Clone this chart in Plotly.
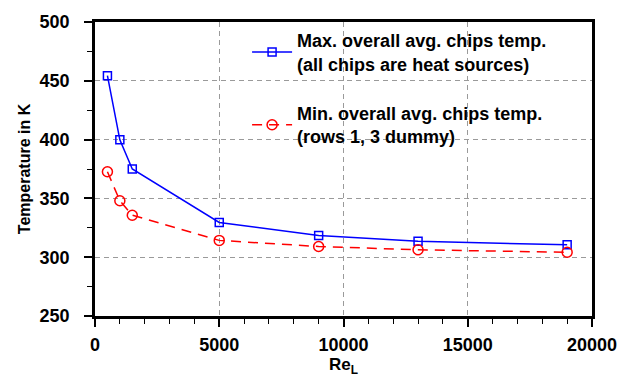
import plotly.graph_objects as go

re_max = [500, 1000, 1500, 5000, 9000, 13000, 19000]
t_max = [454.4, 399.8, 375, 329.5, 318.4, 313.5, 310.5]
re_min = [500, 1000, 1500, 5000, 9000, 13000, 19000]
t_min = [372.7, 348, 335.7, 314.3, 309.1, 306.3, 304.2]

name_max = "Max. overall avg. chips temp.<br>(all chips are heat sources)"
name_min = "Min. overall avg. chips temp.<br>(rows 1, 3 dummy)"

x_ticks = [0, 5000, 10000, 15000, 20000]
y_ticks = [250, 300, 350, 400, 450, 500]

FAM = "Liberation Sans, Arial, sans-serif"

fig = go.Figure()
fig.add_trace(go.Scatter(
    x=re_max, y=t_max, name=name_max, mode="lines+markers", legendgroup="a",
    line=dict(color="#0000ff", width=1.5),
    marker=dict(symbol="square-open", size=8, color="#0000ff", line=dict(width=1.5)),
))
fig.add_trace(go.Scatter(
    x=re_min, y=t_min, name=name_min, mode="lines+markers", legendgroup="b",
    line=dict(color="#ff0000", width=1.5, dash="10px,7px"),
    marker=dict(symbol="circle-open", size=10, color="#ff0000", line=dict(width=1.5)),
))

fig.update_layout(
    width=629, height=385,
    margin=dict(l=95, r=28, t=12, b=69),
    paper_bgcolor="white", plot_bgcolor="white",
    font=dict(family=FAM, size=18, color="black"),
    showlegend=True,
    legend=dict(x=0.306, y=1.0, xanchor="left", yanchor="top",
                bgcolor="rgba(0,0,0,0)", borderwidth=0,
                font=dict(family=FAM, size=18, color="black", weight="bold"),
                tracegroupgap=23, itemwidth=40),
)
fig.update_xaxes(
    range=[0, 20000], tickvals=x_ticks,
    ticktext=["<b>%d</b>" % v for v in x_ticks],
    tickfont=dict(size=18),
    ticks="outside", ticklen=8, tickwidth=1.5, tickcolor="black",
    ticklabelstandoff=3,
    minor=dict(ticks="outside", dtick=1000, tick0=0, ticklen=5, tickwidth=1.2, tickcolor="black", showgrid=False),
    showline=True, linewidth=2.5, linecolor="black", mirror=True,
    showgrid=True, gridcolor="#9a9a9a", griddash="5px,4px", gridwidth=1,
    zeroline=False,
    title=dict(text="<b>Re<sub>L</sub></b>", standoff=0, font=dict(size=17)),
)
fig.update_yaxes(
    range=[250, 500], tickvals=y_ticks,
    ticktext=["<b>%d</b>" % v for v in y_ticks],
    tickfont=dict(size=18),
    ticks="outside", ticklen=8, tickwidth=1.5, tickcolor="black",
    ticklabelstandoff=11,
    minor=dict(ticks="outside", dtick=25, tick0=250, ticklen=5, tickwidth=1.2, tickcolor="black", showgrid=False),
    showline=True, linewidth=2.5, linecolor="black", mirror=True,
    showgrid=True, gridcolor="#9a9a9a", griddash="5px,4px", gridwidth=1,
    zeroline=False,
    title=dict(text="<b>Temperature in K</b>", standoff=6, font=dict(size=16)),
)

fig.write_html("out.html")
